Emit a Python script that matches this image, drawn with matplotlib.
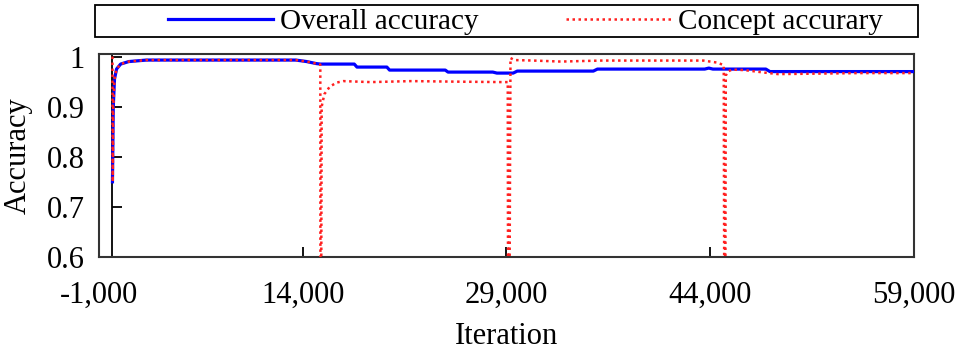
import matplotlib
matplotlib.use('Agg')
import matplotlib.pyplot as plt
from matplotlib.patches import Rectangle
from matplotlib.ticker import FuncFormatter

plt.rcParams['font.family'] = ['Liberation Serif', 'DejaVu Serif']

# overall accuracy (blue, solid)
overall_iter = [0, 60, 150, 300, 600, 1200, 2500, 13500, 14300, 15000, 15300, 17800, 18000,
                20200, 20400, 24500, 24700, 28000, 28300, 29500, 29800, 35400, 35700,
                43600, 43900, 44200, 48100, 48400, 59000]
overall_acc = [0.75, 0.90, 0.955, 0.975, 0.985, 0.99, 0.993, 0.993, 0.99, 0.986, 0.985, 0.985, 0.979,
               0.979, 0.973, 0.973, 0.969, 0.969, 0.967, 0.967, 0.971, 0.971, 0.975,
               0.975, 0.977, 0.975, 0.975, 0.970, 0.970]

# concept accuracy (red, dotted) - drops at each drift
concept_iter = [0, 20, 60, 150, 300, 600, 1200, 2500, 13500, 14300, 15000, 15300, 15320, 15400,
                15600, 16000, 16500, 17000, 19000, 22000, 25000, 28800, 29100, 29150, 29300,
                29600, 31000, 33000, 36000, 43500, 44500, 45000, 45080, 45150, 45300, 45600,
                46500, 48000, 49000, 52000, 55000, 59000]
concept_acc = [1.0, 0.75, 0.9, 0.955, 0.975, 0.985, 0.99, 0.993, 0.993, 0.99, 0.986, 0.984, 0.0, 0.90,
               0.925, 0.94, 0.948, 0.951, 0.949, 0.951, 0.950, 0.949, 0.949, 0.0, 0.997,
               0.993, 0.992, 0.990, 0.992, 0.992, 0.988, 0.983, 0.0, 0.962, 0.97, 0.974,
               0.973, 0.968, 0.965, 0.966, 0.967, 0.967]

x_ticks = [-1000, 14000, 29000, 44000, 59000]
y_ticks = [0.6, 0.7, 0.8, 0.9, 1.0]

fig = plt.figure(figsize=(9.6, 3.51), dpi=100)
ax = fig.add_axes([0.103, 0.268, 0.849, 0.578])

ax.plot(overall_iter, overall_acc, color='#0000ff', lw=2.3, label='Overall accuracy', zorder=3)
ax.plot(concept_iter, concept_acc, color='#ff2020', lw=1.8, ls=(0, (1, 1.4)), label='Concept accurary', zorder=4)

ax.set_xlim(-1000, 59000)
ax.set_ylim(0.6, 1.005)
ax.set_xticks(x_ticks)
ax.set_yticks(y_ticks)
ax.xaxis.set_major_formatter(FuncFormatter(lambda v, p: f'{int(v):,}'))
ax.yaxis.set_major_formatter(FuncFormatter(lambda v, p: f'{v:g}'))

# y axis drawn at iteration 0, frame edge at -1000
ax.spines['left'].set_position(('data', 0))
ax.spines['left'].set_linewidth(1.3)
for s in ['top', 'right', 'bottom']:
    ax.spines[s].set_linewidth(1.5)
    ax.spines[s].set_color('#333333')
ax.plot([0, 0], [0, 1], transform=ax.transAxes, color='#333333', lw=1.5, clip_on=False)

ax.tick_params(axis='y', direction='in', length=7, width=1.3, pad=20, labelsize=22)
ax.tick_params(axis='x', direction='in', length=7, width=1.3, pad=17, labelsize=22)
ax.set_xlabel('Iteration', fontsize=22, labelpad=9)
ax.set_ylabel('Accuracy', fontsize=22)
ax.yaxis.set_label_coords(-0.081, 0.5)

# legend box above the plot
fig.patches.append(Rectangle((95 / 960, 1 - 37 / 351), 823 / 960, 32 / 351,
                             transform=fig.transFigure, fill=False, edgecolor='black', lw=1.3))
fig.legend(loc='center left', bbox_to_anchor=(153 / 960, 1 - 22 / 351), ncol=2, frameon=False,
           fontsize=21, handlelength=3.6, columnspacing=3.0, handletextpad=0.25, borderpad=0)

fig.savefig('out.png', dpi=100)
